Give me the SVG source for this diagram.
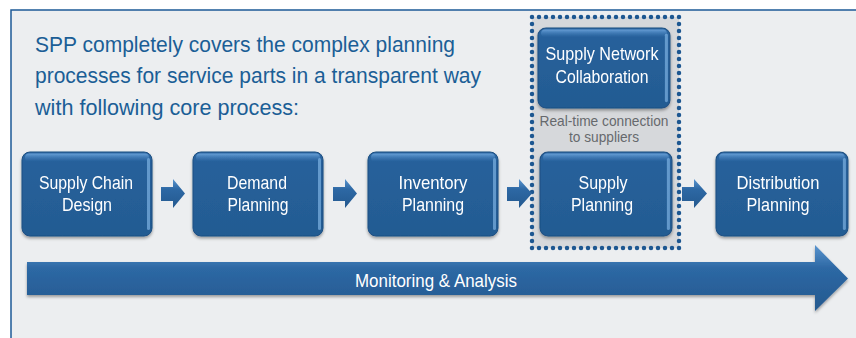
<svg xmlns="http://www.w3.org/2000/svg" width="856" height="338" viewBox="0 0 856 338">
<defs>
<linearGradient id="boxg" x1="0" y1="0" x2="0" y2="1">
<stop offset="0" stop-color="#3069a5"/>
<stop offset="0.12" stop-color="#27619b"/>
<stop offset="1" stop-color="#235b92"/>
</linearGradient>
<linearGradient id="hl" x1="0" y1="0" x2="0" y2="1">
<stop offset="0" stop-color="#6fa6dc" stop-opacity="0.9"/>
<stop offset="1" stop-color="#3d7cbc" stop-opacity="0"/>
</linearGradient>
<linearGradient id="arrg" x1="0" y1="0" x2="0" y2="1">
<stop offset="0" stop-color="#5a95cf"/>
<stop offset="0.35" stop-color="#2d68a4"/>
<stop offset="1" stop-color="#24598f"/>
</linearGradient>
<filter id="sh" x="-10%" y="-10%" width="120%" height="130%">
<feDropShadow dx="0" dy="2" stdDeviation="1.5" flood-color="#000" flood-opacity="0.35"/>
</filter>
<g id="boxshape">
<rect x="0" y="0" width="130" height="84" rx="8" fill="url(#boxg)" stroke="#1d4f82" stroke-width="1"/>
<rect x="3" y="1.5" width="124" height="8" rx="4" fill="url(#hl)"/>
<rect x="125" y="6" width="3" height="72" rx="1.5" fill="#8cc0ef" opacity="0.6"/>
</g>
</defs>
<style>
.title{font-family:"Liberation Sans",Arial,sans-serif;font-size:22px;fill:#1b5e96}
.bt{font-family:"Liberation Sans",Arial,sans-serif;font-size:19px;fill:#ffffff;text-anchor:middle}
.gt{font-family:"Liberation Sans",Arial,sans-serif;font-size:14.5px;fill:#66696d;text-anchor:middle}
.mt{font-family:"Liberation Sans",Arial,sans-serif;font-size:19px;fill:#ffffff;text-anchor:middle}
</style>
<rect x="0" y="0" width="856" height="338" fill="#ffffff"/>
<rect x="11" y="10" width="860" height="340" fill="#eceef0" stroke="#1d5a96" stroke-width="1.5"/>
<g id="title">
<text class="title" x="35" y="52" textLength="420" lengthAdjust="spacingAndGlyphs">SPP completely covers the complex planning</text>
<text class="title" x="35" y="83" textLength="446" lengthAdjust="spacingAndGlyphs">processes for service parts in a transparent way</text>
<text class="title" x="35" y="115" textLength="264" lengthAdjust="spacingAndGlyphs">with following core process:</text>
</g>
<g id="collab-frame">
<rect x="532" y="17" width="147" height="231" fill="#d6d8db" stroke="#1d5791" stroke-width="4.5" stroke-linecap="round" stroke-dasharray="0 7"/>
<text class="gt" x="604" y="126" textLength="129" lengthAdjust="spacingAndGlyphs">Real-time connection</text>
<text class="gt" x="604" y="142" textLength="70" lengthAdjust="spacingAndGlyphs">to suppliers</text>
</g>
<g id="monitoring">
<path d="M27 262 H815 V245 L848 278.5 L815 311 V295 H27 Z" fill="url(#arrg)" filter="url(#sh)"/>
<text class="mt" x="436" y="287" textLength="162" lengthAdjust="spacingAndGlyphs">Monitoring &amp; Analysis</text>
</g>
<g id="connectors">
<path d="M161 187 H173 V179 L185 193.5 L173 208 V201 H161 Z" fill="url(#arrg)"/>
<path d="M333 187 H345 V179 L357 193.5 L345 208 V201 H333 Z" fill="url(#arrg)"/>
<path d="M507 187 H519 V179 L532 193.5 L519 208 V201 H507 Z" fill="url(#arrg)"/>
<path d="M682 187 H694 V179 L707 193.5 L694 208 V201 H682 Z" fill="url(#arrg)"/>
</g>
<g id="supply-network-collaboration" filter="url(#sh)">
<use href="#boxshape" transform="translate(538,28) scale(1.015,0.952)"/>
<text class="bt" x="602" y="60" textLength="113" lengthAdjust="spacingAndGlyphs">Supply Network</text>
<text class="bt" x="602" y="83" textLength="93" lengthAdjust="spacingAndGlyphs">Collaboration</text>
</g>
<g id="supply-chain-design" filter="url(#sh)">
<use href="#boxshape" transform="translate(22,152)"/>
<text class="bt" x="86" y="189" textLength="94" lengthAdjust="spacingAndGlyphs">Supply Chain</text>
<text class="bt" x="87" y="211" textLength="50" lengthAdjust="spacingAndGlyphs">Design</text>
</g>
<g id="demand-planning" filter="url(#sh)">
<use href="#boxshape" transform="translate(193,152)"/>
<text class="bt" x="257" y="189" textLength="60" lengthAdjust="spacingAndGlyphs">Demand</text>
<text class="bt" x="258" y="211" textLength="61" lengthAdjust="spacingAndGlyphs">Planning</text>
</g>
<g id="inventory-planning" filter="url(#sh)">
<use href="#boxshape" transform="translate(368,152)"/>
<text class="bt" x="433" y="189" textLength="69" lengthAdjust="spacingAndGlyphs">Inventory</text>
<text class="bt" x="433" y="211" textLength="62" lengthAdjust="spacingAndGlyphs">Planning</text>
</g>
<g id="supply-planning" filter="url(#sh)">
<use href="#boxshape" transform="translate(540,152) scale(1.015,1)"/>
<text class="bt" x="603" y="189" textLength="49" lengthAdjust="spacingAndGlyphs">Supply</text>
<text class="bt" x="602" y="211" textLength="62" lengthAdjust="spacingAndGlyphs">Planning</text>
</g>
<g id="distribution-planning" filter="url(#sh)">
<use href="#boxshape" transform="translate(716,152) scale(1.015,1)"/>
<text class="bt" x="778" y="189" textLength="83" lengthAdjust="spacingAndGlyphs">Distribution</text>
<text class="bt" x="778" y="211" textLength="63" lengthAdjust="spacingAndGlyphs">Planning</text>
</g>
</svg>
